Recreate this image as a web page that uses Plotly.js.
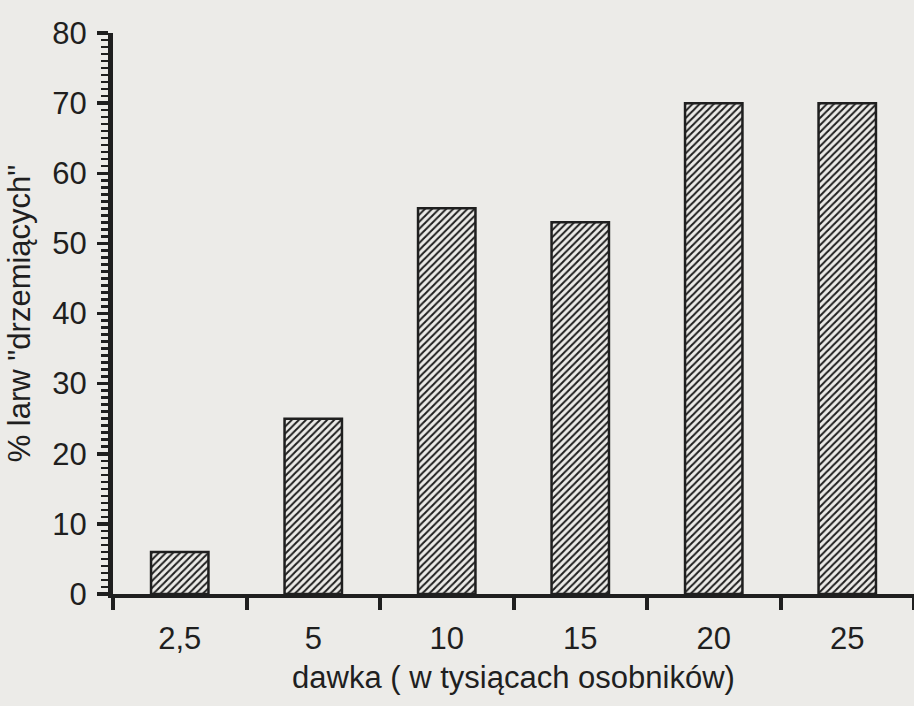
<!DOCTYPE html>
<html>
<head>
<meta charset="utf-8">
<script src="https://cdn.plot.ly/plotly-3.0.1.min.js"></script>
<style>
  html, body { margin: 0; padding: 0; background: #ecebe8; }
  #chart { width: 914px; height: 706px; }
</style>
</head>
<body>
<div id="chart"></div>
<script>
const categories = ["2,5", "5", "10", "15", "20", "25"];
const values = [6, 25, 55, 53, 70, 70];
const yMax = 80;
const yMajorStep = 10;
const yMinorStep = 1;
const xTitle = "dawka ( w tysiącach osobników)";
const yTitle = '% larw "drzemiących"';

const ink = "#1f1f1f";
const paper = "#ecebe8";

const trace = {
  type: "bar",
  x: categories,
  y: values,
  width: 0.43,
  marker: {
    color: paper,
    line: { color: ink, width: 2.5 },
    pattern: { shape: "/", fgcolor: ink, bgcolor: paper, size: 5, solidity: 0.4, fillmode: "replace" }
  },
  hoverinfo: "skip"
};

const layout = {
  width: 914,
  height: 706,
  margin: { l: 113, r: 0, t: 33, b: 112 },
  paper_bgcolor: paper,
  plot_bgcolor: paper,
  showlegend: false,
  font: { family: "Liberation Sans, Arial, sans-serif", color: ink },
  xaxis: {
    type: "category",
    range: [-0.5, 5.5],
    tickson: "boundaries",
    ticks: "outside",
    ticklen: 12,
    tickwidth: 4,
    tickcolor: ink,
    showline: true,
    linewidth: 4,
    linecolor: ink,
    showgrid: false,
    zeroline: false,
    tickfont: { size: 31, color: ink },
    ticklabelstandoff: 14,
    title: { text: xTitle, font: { size: 31, color: ink }, standoff: 12 }
  },
  yaxis: {
    range: [0, yMax],
    tickmode: "linear",
    tick0: 0,
    dtick: yMajorStep,
    ticks: "outside",
    ticklen: 11,
    tickwidth: 3.5,
    tickcolor: ink,
    minor: { tickmode: "linear", tick0: 0, dtick: yMinorStep, ticks: "outside", ticklen: 7, tickwidth: 2.5, tickcolor: ink, showgrid: false },
    showline: true,
    linewidth: 5,
    linecolor: ink,
    showgrid: false,
    zeroline: false,
    tickfont: { size: 31, color: ink },
    ticklabelstandoff: 4,
    title: { text: yTitle, font: { size: 31, color: ink }, standoff: 14 }
  }
};

Plotly.newPlot("chart", [trace], layout, { staticPlot: true, displayModeBar: false });
</script>
</body>
</html>
